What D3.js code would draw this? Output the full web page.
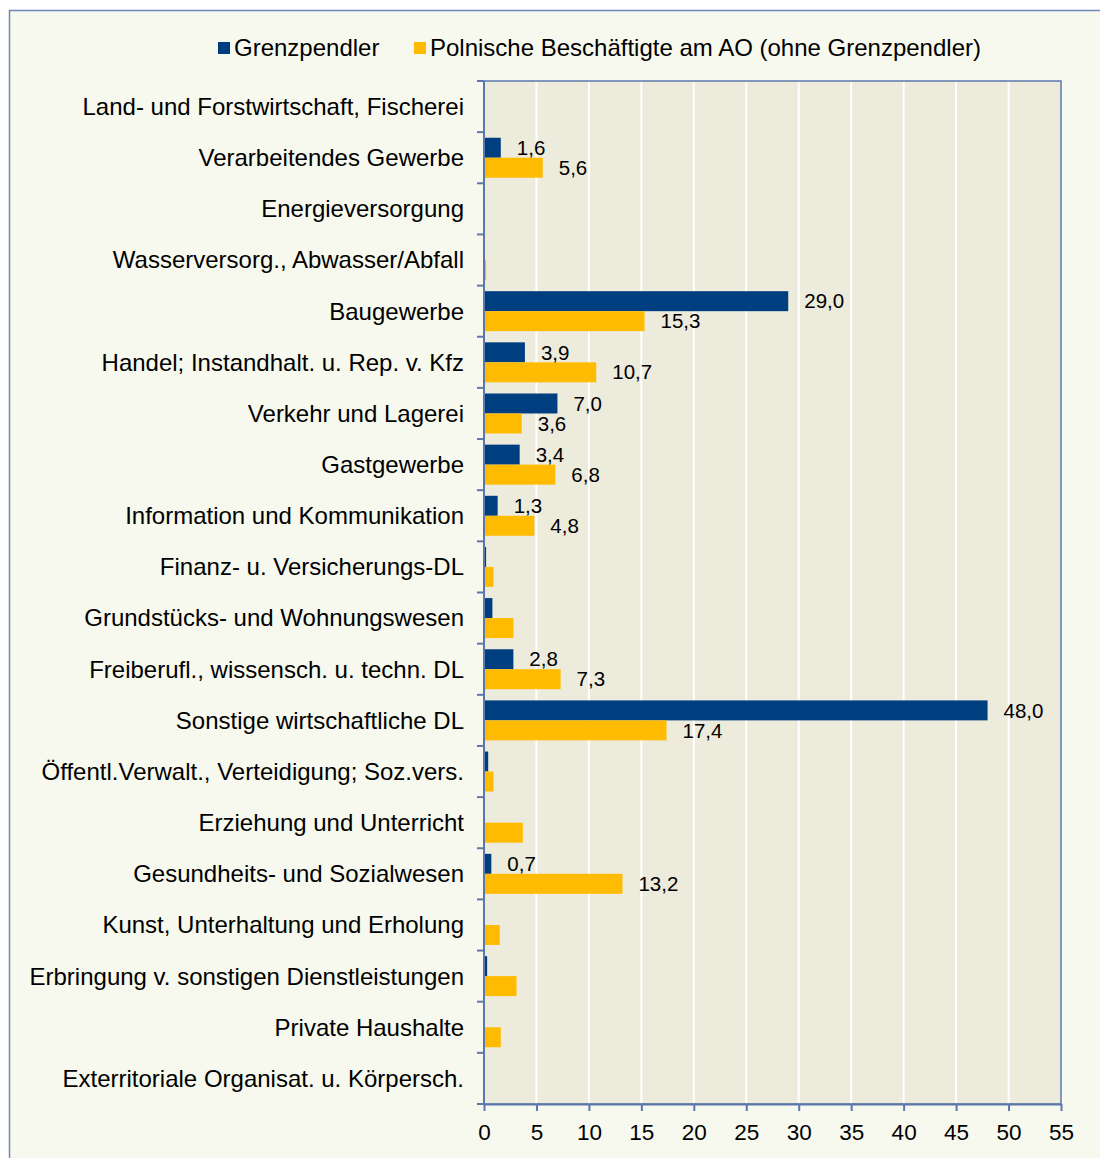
<!DOCTYPE html>
<html>
<head>
<meta charset="utf-8">
<script src="https://cdn.jsdelivr.net/npm/d3@7"></script>
<style>
  html, body { margin: 0; padding: 0; background: #ffffff; }
  svg { display: block; font-family: "Liberation Sans", Arial, sans-serif; }
</style>
</head>
<body>
<svg id="chart" width="1100" height="1158"></svg>
<script>
const categories = [
  "Land- und Forstwirtschaft, Fischerei",
  "Verarbeitendes Gewerbe",
  "Energieversorgung",
  "Wasserversorg., Abwasser/Abfall",
  "Baugewerbe",
  "Handel; Instandhalt. u. Rep. v. Kfz",
  "Verkehr und Lagerei",
  "Gastgewerbe",
  "Information und Kommunikation",
  "Finanz- u. Versicherungs-DL",
  "Grundstücks- und Wohnungswesen",
  "Freiberufl., wissensch. u. techn. DL",
  "Sonstige wirtschaftliche DL",
  "Öffentl.Verwalt., Verteidigung; Soz.vers.",
  "Erziehung und Unterricht",
  "Gesundheits- und Sozialwesen",
  "Kunst, Unterhaltung und Erholung",
  "Erbringung v. sonstigen Dienstleistungen",
  "Private Haushalte",
  "Exterritoriale Organisat. u. Körpersch."
];
const seriesNames = ["Grenzpendler", "Polnische Beschäftigte am AO (ohne Grenzpendler)"];
const grenzpendler = [0, 1.6, 0, 0, 29.0, 3.9, 7.0, 3.4, 1.3, 0.2, 0.8, 2.8, 48.0, 0.4, 0, 0.7, 0, 0.3, 0, 0];
const polnische    = [0, 5.6, 0.1, 0.2, 15.3, 10.7, 3.6, 6.8, 4.8, 0.9, 2.8, 7.3, 17.4, 0.9, 3.7, 13.2, 1.5, 3.1, 1.6, 0];
const labeled      = [false, true, false, false, true, true, true, true, true, false, false, true, true, false, false, true, false, false, false, false];
const xTicks = [0, 5, 10, 15, 20, 25, 30, 35, 40, 45, 50, 55];
const colors = ["#003f7f", "#ffbb00"];

const svg = d3.select("#chart");
const L = 484, R = 1061, T = 81, B = 1104;
const axisColor = "#5b77ad";

// outer frame
svg.append("rect").attr("x", 9.5).attr("y", 10.5).attr("width", 1200).attr("height", 1200)
  .attr("fill", "#f7f9ee").attr("stroke", "#6f89ba").attr("stroke-width", 1.5);

const x = d3.scaleLinear().domain([0, 55]).range([L, R]);
const y = d3.scaleBand().domain(categories).range([T, B]).padding(0);
const ys = d3.scaleBand().domain(seriesNames).range([0, y.bandwidth()]).paddingInner(0).paddingOuter(0.28);

// plot background
svg.append("rect").attr("x", L).attr("y", T).attr("width", R - L).attr("height", B - T).attr("fill", "#edebdc");

// gridlines
svg.append("g").selectAll("line").data(xTicks.filter(d => d > 0 && d < 55)).join("line")
  .attr("x1", d => x(d)).attr("x2", d => x(d)).attr("y1", T).attr("y2", B)
  .attr("stroke", "#ffffff").attr("stroke-width", 2);

// bars
const data = categories.map((c, i) => ({ c, i, vals: [grenzpendler[i], polnische[i]] }));
const groups = svg.append("g").selectAll("g").data(data).join("g")
  .attr("transform", d => `translate(0,${y(d.c)})`);
groups.selectAll("rect").data(d => d.vals.map((v, k) => ({ v, k, s: seriesNames[k] }))).join("rect")
  .attr("x", x(0)).attr("y", d => ys(d.s)).attr("height", ys.bandwidth())
  .attr("width", d => x(d.v) - x(0)).attr("fill", d => colors[d.k]);

// data labels
groups.filter(d => labeled[d.i]).selectAll("text").data(d => d.vals.map((v, k) => ({ v, k, s: seriesNames[k] }))).join("text")
  .attr("x", d => x(d.v) + 16).attr("y", d => ys(d.s) + ys.bandwidth() / 2)
  .attr("dy", "0.35em").attr("font-size", 20.5).attr("fill", "#000")
  .text(d => d3.format(".1f")(d.v).replace(".", ","));

// plot border (top & right)
svg.append("rect").attr("x", L).attr("y", T).attr("width", R - L).attr("height", B - T)
  .attr("fill", "none").attr("stroke", axisColor).attr("stroke-width", 1.5);

// y axis
const yAxis = svg.append("g").attr("transform", `translate(${L},0)`);
yAxis.append("line").attr("x1", 0).attr("x2", 0).attr("y1", T).attr("y2", B).attr("stroke", axisColor).attr("stroke-width", 2);
const bounds = d3.range(categories.length + 1).map(i => T + i * y.step());
yAxis.selectAll("line.tk").data(bounds).join("line").attr("class", "tk")
  .attr("x1", -7).attr("x2", 0).attr("y1", d => d).attr("y2", d => d).attr("stroke", axisColor).attr("stroke-width", 2);
yAxis.selectAll("text").data(categories).join("text")
  .attr("x", -20).attr("y", d => y(d) + y.bandwidth() / 2).attr("dy", "0.35em")
  .attr("text-anchor", "end").attr("font-size", 24).attr("fill", "#000").text(d => d);

// x axis
const xAxis = svg.append("g").attr("transform", `translate(0,${B})`)
  .call(d3.axisBottom(x).tickValues(xTicks).tickSize(7).tickSizeOuter(0).tickPadding(13));
xAxis.select(".domain").attr("stroke", axisColor).attr("stroke-width", 2);
xAxis.selectAll(".tick line").attr("stroke", axisColor).attr("stroke-width", 2);
xAxis.selectAll(".tick text").attr("font-size", 22.5).attr("fill", "#000")
  .attr("font-family", "'Liberation Sans', Arial, sans-serif");

// legend
const leg = svg.append("g").attr("transform", "translate(218,48)");
const legX = [0, 196];
seriesNames.forEach((s, k) => {
  const g = leg.append("g").attr("transform", `translate(${legX[k]},0)`);
  g.append("rect").attr("x", 0).attr("y", -6).attr("width", 12).attr("height", 12).attr("fill", colors[k]);
  g.append("text").attr("x", 16).attr("y", 0).attr("dy", "0.35em").attr("font-size", 24).attr("fill", "#000").text(s);
});
</script>
</body>
</html>
